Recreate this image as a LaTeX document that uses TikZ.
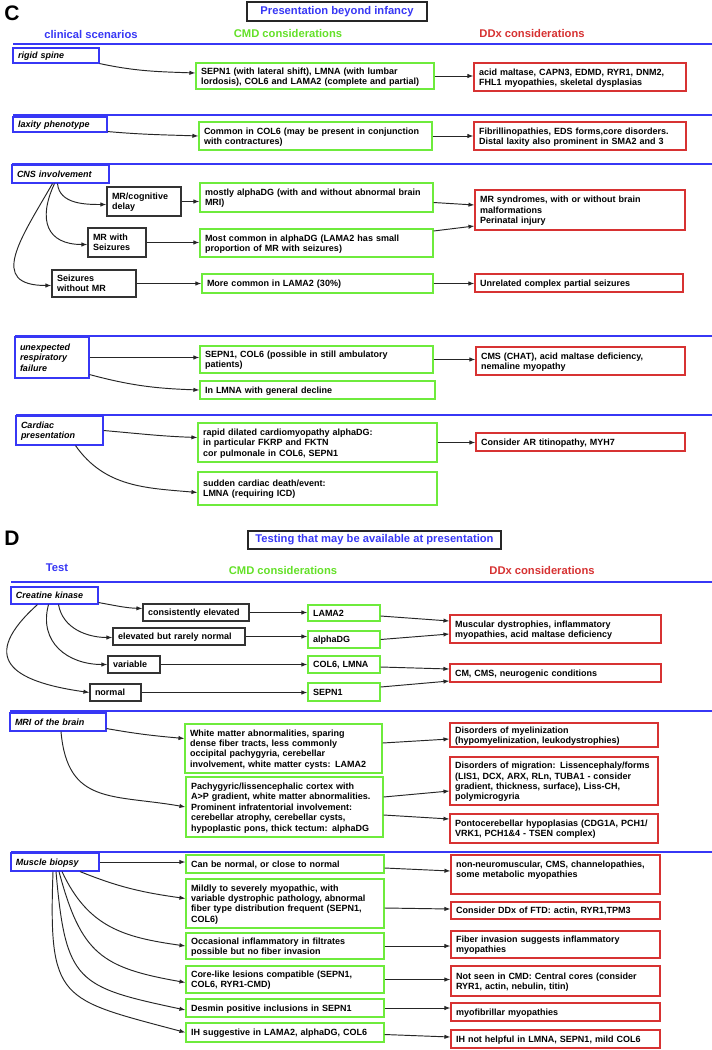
\documentclass[tikz,border=0pt]{standalone}
\usepackage{fontspec}
\setmainfont{Liberation Sans}
\usetikzlibrary{arrows.meta,calc}
\definecolor{cblue}{RGB}{55,55,245}
\definecolor{cgreen}{RGB}{110,235,60}
\definecolor{cred}{RGB}{215,50,50}
\definecolor{hgreen}{RGB}{100,225,40}
\newcommand\mybox[7]{%
  \pgfmathsetmacro\mbw{#5-#3}%
  \pgfmathsetmacro\mbh{#6-#4}%
  \pgfmathsetmacro\mbtw{#5-#3-10}%
  \node[#2, minimum width=\mbw pt, minimum height=\mbh pt, text width=\mbtw pt]
    (#1) at ({(#3+#5)/2},{(#4+#6)/2}) {\raisebox{-1.2pt}[\height][\depth]{\begin{tabular}{@{}l@{}}#7\end{tabular}}};}
\tikzset{
  base/.style={draw, line width=1.1pt, inner xsep=5pt, inner ysep=1pt, align=left,
    font=\fontsize{9}{10.4}\selectfont\bfseries},
  bluebox/.style={base, draw=cblue, font=\fontsize{9}{10.4}\selectfont\bfseries\itshape},
  greenbox/.style={base, draw=cgreen},
  redbox/.style={base, draw=cred},
  blackbox/.style={base, draw=black!80},
  titlebox/.style={draw=black!85, line width=1.1pt, text=cblue,
    font=\fontsize{11.2}{13}\selectfont\bfseries},
  hdr/.style={font=\fontsize{11.2}{13}\selectfont\bfseries},
  letter/.style={font=\fontsize{21}{21}\selectfont\bfseries},
  blueline/.style={draw=cblue, line width=1.3pt},
  arr/.style={-{Latex[length=6pt,width=4.4pt]}, line width=0.95pt, draw=black!85},
}
\begin{document}
\begin{tikzpicture}[x=1pt,y=-1pt]
\fill[white] (0,0) rectangle (712,1050);
\useasboundingbox (0,0) rectangle (712,1050);

% ---------------- Section C ----------------
\node[letter] (labC) at (12,13) {C};
\node[titlebox, minimum width=180pt, minimum height=19pt] (tC) at (337,11.5) {Presentation beyond infancy};
\node[hdr, text=cblue] (hC1) at (91,34) {clinical scenarios};
\node[hdr, text=hgreen] (hC2) at (288,33) {CMD considerations};
\node[hdr, text=cred] (hC3) at (532,33) {DDx considerations};

\draw[blueline] (13,44) -- (712,44);
\mybox{rigid}{bluebox}{13}{48}{99}{63}{rigid spine}
\mybox{g1}{greenbox}{196}{63}{434}{89}{SEPN1 (with lateral shift), LMNA (with lumbar\\lordosis), COL6 and LAMA2 (complete and partial)}
\mybox{r1}{redbox}{474}{63}{686}{91}{acid maltase, CAPN3, EDMD, RYR1, DNM2,\\FHL1 myopathies, skeletal dysplasias}

\draw[blueline] (13,115) -- (712,115);
\mybox{lax}{bluebox}{13}{117}{107}{132}{laxity phenotype}
\mybox{g2}{greenbox}{199}{122}{432}{150}{Common in COL6 (may be present in conjunction\\with contractures)}
\mybox{r2}{redbox}{474}{122}{686}{150}{Fibrillinopathies, EDS forms,core disorders.\\Distal laxity also prominent in SMA2 and 3}

\draw[blueline] (12,164) -- (712,164);
\mybox{cns}{bluebox}{12}{165}{109}{183}{CNS involvement}
\mybox{mrcog}{blackbox}{107}{187}{181}{216}{MR/cognitive\\delay}
\mybox{g3}{greenbox}{200}{183}{433}{212}{mostly alphaDG (with and without abnormal brain\\MRI)}
\mybox{r3}{redbox}{475}{190}{685}{230}{MR syndromes, with or without brain\\malformations\\Perinatal injury}
\mybox{mrsz}{blackbox}{88}{228}{146}{257}{MR with\\Seizures}
\mybox{g4}{greenbox}{200}{229}{433}{257}{Most common in alphaDG (LAMA2 has small\\proportion of MR with seizures)}
\mybox{szno}{blackbox}{52}{270}{136}{297}{Seizures\\without MR}
\mybox{g5}{greenbox}{202}{274}{433}{293}{More common in LAMA2 (30\%)}
\mybox{r5}{redbox}{475}{274}{683}{292}{Unrelated complex partial seizures}

\draw[blueline] (15,336) -- (712,336);
\mybox{resp}{bluebox}{15}{337}{89}{378}{unexpected\\respiratory\\failure}
\mybox{g6}{greenbox}{200}{346}{433}{373}{SEPN1, COL6 (possible in still ambulatory\\patients)}
\mybox{r6}{redbox}{476}{347}{685}{375}{CMS (CHAT), acid maltase deficiency,\\nemaline myopathy}
\mybox{g7}{greenbox}{200}{381}{435}{399}{In LMNA with general decline}

\draw[blueline] (16,415) -- (712,415);
\mybox{card}{bluebox}{16}{416}{103}{445}{Cardiac\\presentation}
\mybox{g8}{greenbox}{198}{423}{437}{462}{rapid dilated cardiomyopathy alphaDG:\\in particular FKRP and FKTN\\cor pulmonale in COL6, SEPN1}
\mybox{r8}{redbox}{476}{433}{685}{451}{Consider AR titinopathy, MYH7}
\mybox{g9}{greenbox}{198}{472}{437}{505}{sudden cardiac death/event:\\LMNA (requiring ICD)}

% connectors C
\draw[arr] (rigid.south east) to[out=-12,in=178] ([yshift=3pt]g1.west);
\draw[arr] (g1.east) -- (g1.east -| r1.west);
\draw[arr] ([yshift=1pt]lax.south east) to[out=-5,in=178] (g2.west);
\draw[arr] (g2.east) -- (g2.east -| r2.west);
\draw[arr] ([xshift=-3pt]cns.south) to[out=-85,in=180] ([yshift=-3pt]mrcog.west);
\draw[arr] ([xshift=-6pt]cns.south) to[out=-115,in=180,looseness=1.5] ([yshift=-2pt]mrsz.west);
\draw[arr] ([xshift=-8pt]cns.south) to[out=-120,in=180,looseness=1.6] ([yshift=-2pt]szno.west);
\draw[arr] (mrcog.east) -- (mrcog.east -| g3.west);
\draw[arr] (mrsz.east) -- (mrsz.east -| g4.west);
\draw[arr] (szno.east) -- (szno.east -| g5.west);
\draw[arr] ([yshift=-5pt]g3.east) -- ([yshift=5pt]r3.west);
\draw[arr] ([yshift=12pt]g4.east) -- ([yshift=-16pt]r3.west);
\draw[arr] (g5.east) -- (g5.east -| r5.west);
\draw[arr] (resp.east) -- (resp.east -| g6.west);
\draw[arr] ([yshift=4pt]resp.south east) to[out=-15,in=178] (g7.west);
\draw[arr] (g6.east) -- (g6.east -| r6.west);
\draw[arr] (card.east) to[out=-5,in=178] ([yshift=5pt]g8.west);
\draw[arr] ([xshift=16pt]card.south) to[out=-55,in=175] ([yshift=-4pt]g9.west);
\draw[arr] (g8.east) -- (g8.east -| r8.west);

% ---------------- Section D ----------------
\node[letter] (labD) at (12,538) {D};
\node[titlebox, minimum width=253pt, minimum height=18pt] (tD) at (374.5,540) {Testing that may be available at presentation};
\node[hdr, text=cblue] (hD1) at (57,568) {Test};
\node[hdr, text=hgreen] (hD2) at (283,570) {CMD considerations};
\node[hdr, text=cred] (hD3) at (542,570) {DDx considerations};

\draw[blueline] (11,582) -- (712,582);
\mybox{ck}{bluebox}{11}{587}{98}{604}{Creatine kinase}
\mybox{cons}{blackbox}{143}{604}{249}{621}{consistently elevated}
\mybox{lama}{greenbox}{308}{605}{380}{621}{LAMA2}
\mybox{rmd}{redbox}{450}{615}{661}{643}{Muscular dystrophies, inflammatory\\myopathies, acid maltase deficiency}
\mybox{elev}{blackbox}{113}{628}{245}{645}{elevated but rarely normal}
\mybox{adg}{greenbox}{308}{631}{380}{648}{alphaDG}
\mybox{var}{blackbox}{108}{656}{160}{673}{variable}
\mybox{col}{greenbox}{308}{656}{380}{673}{COL6, LMNA}
\mybox{rcm}{redbox}{450}{664}{661}{682}{CM, CMS, neurogenic conditions}
\mybox{norm}{blackbox}{90}{684}{141}{701}{normal}
\mybox{sep}{greenbox}{308}{683}{380}{701}{SEPN1}

\draw[blueline] (10,711) -- (712,711);
\mybox{mri}{bluebox}{10}{713}{106}{731}{MRI of the brain}
\mybox{gw}{greenbox}{185}{724}{382}{773}{White matter abnormalities, sparing\\dense fiber tracts, less commonly\\occipital pachygyria, cerebellar\\involvement, white matter cysts: LAMA2}
\mybox{rmy}{redbox}{450}{723}{658}{747}{Disorders of myelinization\\(hypomyelinization, leukodystrophies)}
\mybox{gp}{greenbox}{186}{777}{383}{837}{Pachygyric/lissencephalic cortex with\\A>P gradient, white matter abnormalities.\\Prominent infratentorial involvement:\\cerebellar atrophy, cerebellar cysts,\\hypoplastic pons, thick tectum: alphaDG}
\mybox{rmig}{redbox}{450}{757}{658}{805}{Disorders of migration: Lissencephaly/forms\\(LIS1, DCX, ARX, RLn, TUBA1 - consider\\gradient, thickness, surface), Liss-CH,\\polymicrogyria}
\mybox{rpc}{redbox}{450}{814}{658}{843}{Pontocerebellar hypoplasias (CDG1A, PCH1/\\VRK1, PCH1\&4 - TSEN complex)}

\draw[blueline] (11,852) -- (712,852);
\mybox{mb}{bluebox}{11}{853}{99}{871}{Muscle biopsy}
\mybox{b1}{greenbox}{186}{855}{384}{873}{Can be normal, or close to normal}
\mybox{q1}{redbox}{451}{855}{660}{894}{non-neuromuscular, CMS, channelopathies,\\some metabolic myopathies\\ \mbox{}}
\mybox{b2}{greenbox}{186}{879}{384}{928}{Mildly to severely myopathic, with\\variable dystrophic pathology, abnormal\\fiber type distribution frequent (SEPN1,\\COL6)}
\mybox{q2}{redbox}{451}{902}{660}{919}{Consider DDx of FTD: actin, RYR1,TPM3}
\mybox{b3}{greenbox}{186}{933}{384}{959}{Occasional inflammatory in filtrates\\possible but no fiber invasion}
\mybox{q3}{redbox}{451}{931}{660}{958}{Fiber invasion suggests inflammatory\\myopathies}
\mybox{b4}{greenbox}{186}{966}{384}{993}{Core-like lesions compatible (SEPN1,\\COL6, RYR1-CMD)}
\mybox{q4}{redbox}{451}{966}{660}{996}{Not seen in CMD: Central cores (consider\\RYR1, actin, nebulin, titin)}
\mybox{b5}{greenbox}{186}{999}{384}{1017}{Desmin positive inclusions in SEPN1}
\mybox{q5}{redbox}{451}{1003}{660}{1021}{myofibrillar myopathies}
\mybox{b6}{greenbox}{186}{1023}{384}{1042}{IH suggestive in LAMA2, alphaDG, COL6}
\mybox{q6}{redbox}{451}{1030}{660}{1048}{IH not helpful in LMNA, SEPN1, mild COL6}

% connectors D
\draw[arr] ([yshift=2pt]ck.south east) to[out=-10,in=178] ([yshift=4pt]cons.west);
\draw[arr] ([xshift=4pt]ck.south) to[out=-80,in=180] ([yshift=-1pt]elev.west);
\draw[arr] ([xshift=-6pt]ck.south) to[out=-105,in=180,looseness=1.2] (var.west);
\draw[arr] ([xshift=-17pt]ck.south) to[out=-138,in=172,looseness=2] (norm.west);
\draw[arr] (cons.east) -- (cons.east -| lama.west);
\draw[arr] (elev.east) -- (elev.east -| adg.west);
\draw[arr] (var.east) -- (var.east -| col.west);
\draw[arr] (norm.east) -- (norm.east -| sep.west);
\draw[arr] ([yshift=-3pt]lama.east) -- ([yshift=8pt]rmd.west);
\draw[arr] (adg.east) -- ([yshift=-5pt]rmd.west);
\draw[arr] ([yshift=-2.5pt]col.east) -- ([yshift=4pt]rcm.west);
\draw[arr] ([yshift=5pt]sep.east) -- ([yshift=-8pt]rcm.west);

\draw[arr] ([yshift=3pt]mri.south east) to[out=-10,in=175] ([yshift=10pt]gw.west);
\draw[arr] ([xshift=3pt]mri.south) to[out=-85,in=170,looseness=1.3] (gp.west);
\draw[arr] ([yshift=5.5pt]gw.east) -- ([yshift=-4pt]rmy.west);
\draw[arr] ([yshift=10pt]gp.east) -- ([yshift=-10pt]rmig.west);
\draw[arr] ([yshift=-8pt]gp.east) -- ([yshift=9.5pt]rpc.west);

\draw[arr] (mb.east) -- (mb.east -| b1.west);
\draw[arr] ([xshift=25pt]mb.south) to[out=-22,in=172] ([yshift=5pt]b2.west);
\draw[arr] ([xshift=7pt]mb.south) to[out=-65,in=172,looseness=1.1] (b3.west);
\draw[arr] ([xshift=4pt]mb.south) to[out=-75,in=170,looseness=1.3] ([yshift=-3pt]b4.west);
\draw[arr] ([xshift=1pt]mb.south) to[out=-85,in=168,looseness=1.5] ([yshift=-2pt]b5.west);
\draw[arr] ([xshift=-2pt]mb.south) to[out=-92,in=165,looseness=1.6] (b6.west);
\draw[arr] ([yshift=-4pt]b1.east) -- ([yshift=3.5pt]q1.west);
\draw[arr] ([yshift=-4.5pt]b2.east) -- ([yshift=1.5pt]q2.west);
\draw[arr] (b3.east) -- (b3.east -| q3.west);
\draw[arr] (b4.east) -- (b4.east -| q4.west);
\draw[arr] (b5.east) -- (b5.east -| q5.west);
\draw[arr] ([yshift=-2pt]b6.east) -- ([yshift=2pt]q6.west);
\end{tikzpicture}
\end{document}
